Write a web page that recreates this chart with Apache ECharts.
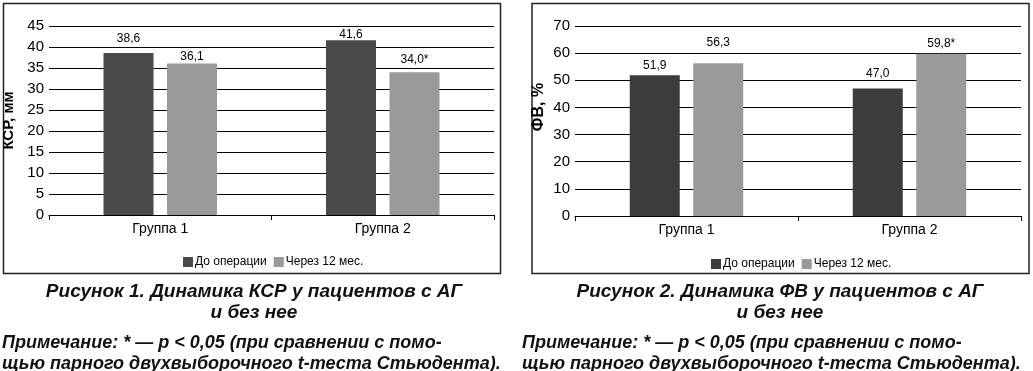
<!DOCTYPE html>
<html>
<head>
<meta charset="utf-8">
<script src="https://cdn.jsdelivr.net/npm/echarts@6/dist/echarts.min.js"></script>
<style>
html,body{margin:0;padding:0;background:#fff;}
#c{width:1033px;height:371px;}
</style>
</head>
<body>
<div id="c"></div>
<script>
// ---- data ----
const categories = ['Группа 1', 'Группа 2'];
const seriesNames = ['До операции', 'Через 12 мес.'];
// Figure 1: КСР, мм
const ksrBefore = [38.6, 41.6];
const ksrAfter = [36.1, 34.0];
const ksrAfterSig = [false, true];
const ksrTicks = { min: 0, max: 45, interval: 5 };
// Figure 2: ФВ, %
const fvBefore = [51.9, 47.0];
const fvAfter = [56.3, 59.8];
const fvAfterSig = [false, true];
const fvTicks = { min: 0, max: 70, interval: 10 };

const captions = {
  fig1: ['Рисунок 1. Динамика КСР у пациентов с АГ', 'и без нее'],
  fig2: ['Рисунок 2. Динамика ФВ у пациентов с АГ', 'и без нее'],
  note: ['Примечание: * — p < 0,05 (при сравнении с помо-', 'щью парного двухвыборочного t-теста Стьюдента).']
};

// ---- styling ----
const FONT = '"Liberation Sans", Arial, sans-serif';
const darkL = '#4a4a4a', darkR = '#3c3c3c', light = '#9a9a9a';
// label lift above each bar (px), as placed in the original
const liftKsrBefore = [8, 0], liftKsrAfter = [1, 7];
const liftFvBefore = [3, 9], liftFvAfter = [14, 4];

function fmt(v, sig) { return v.toFixed(1).replace('.', ',') + (sig ? '*' : ''); }

function makeData(values, lifts, sigs) {
  return values.map((v, i) => ({
    value: v,
    label: { distance: lifts[i], formatter: fmt(v, sigs ? sigs[i] : false) }
  }));
}

function barSeries(name, values, lifts, sigs, color, idx) {
  return {
    type: 'bar', name: name, xAxisIndex: idx, yAxisIndex: idx,
    barWidth: 50, barGap: '27%',
    itemStyle: { color: color },
    label: { show: true, position: 'top', color: '#000', fontSize: 12, fontFamily: FONT },
    data: makeData(values, lifts, sigs),
    animation: false
  };
}

function xAx(idx) {
  return {
    type: 'category', gridIndex: idx, data: categories,
    axisLine: { lineStyle: { color: '#000', width: 1 } },
    axisTick: { show: true, length: 5, lineStyle: { color: '#000' } },
    axisLabel: { color: '#000', fontSize: 14, fontFamily: FONT, margin: 7 }
  };
}
function yAx(idx, t, name, size, gap, pad) {
  return {
    type: 'value', gridIndex: idx, min: t.min, max: t.max, interval: t.interval,
    name: name, nameLocation: 'middle', nameGap: gap, nameRotate: 90,
    nameTextStyle: { color: '#000', fontWeight: 'bold', fontSize: size, fontFamily: FONT, padding: pad },
    axisLine: { show: false }, axisTick: { show: false },
    axisLabel: { color: '#000', fontSize: 15, fontFamily: FONT, margin: 5 },
    splitLine: { lineStyle: { color: '#000', width: 1 } }
  };
}

function legend(left, top, dark) {
  return {
    left: left, top: top, itemWidth: 10, itemHeight: 10, itemGap: 7, icon: 'rect',
    textStyle: { color: '#000', fontSize: 12, fontFamily: FONT, padding: [0, 0, 0, -3] },
    selectedMode: false,
    data: [
      { name: seriesNames[0], itemStyle: { color: dark } },
      { name: seriesNames[1], itemStyle: { color: light } }
    ]
  };
}

function txt(text, x, y, align, size) {
  return { type: 'text', x: x, y: y, silent: true,
    style: { text: text, fill: '#111', font: 'italic bold ' + size + 'px ' + FONT,
      textAlign: align, textVerticalAlign: 'middle' } };
}

const chart = echarts.init(document.getElementById('c'), null, { renderer: 'canvas' });
chart.setOption({
  animation: false,
  backgroundColor: '#fff',
  grid: [
    { left: 48, top: 26, width: 446, height: 189, containLabel: false },
    { left: 575, top: 26, width: 446, height: 190, containLabel: false }
  ],
  xAxis: [xAx(0), xAx(1)],
  yAxis: [
    yAx(0, ksrTicks, 'КСР, мм', 15, 33, [0, 0, 0, 0]),
    yAx(1, fvTicks, 'ФВ, %', 16, 28, [0, 0, 0, 28])
  ],
  legend: [legend(178, 251, darkL), legend(706, 253, darkR)],
  series: [
    barSeries(seriesNames[0], ksrBefore, liftKsrBefore, null, darkL, 0),
    barSeries(seriesNames[1], ksrAfter, liftKsrAfter, ksrAfterSig, light, 0),
    barSeries(seriesNames[0], fvBefore, liftFvBefore, null, darkR, 1),
    barSeries(seriesNames[1], fvAfter, liftFvAfter, fvAfterSig, light, 1)
  ],
  graphic: [
    { type: 'rect', shape: { x: 3.5, y: 3.5, width: 497, height: 270 }, silent: true,
      style: { fill: 'none', stroke: '#222', lineWidth: 1.5 } },
    { type: 'rect', shape: { x: 532, y: 3.5, width: 497, height: 270 }, silent: true,
      style: { fill: 'none', stroke: '#222', lineWidth: 1.5 } },
    txt(captions.fig1[0], 254, 292, 'center', 19),
    txt(captions.fig1[1], 254, 313, 'center', 19),
    txt(captions.note[0], 2, 343, 'left', 18),
    txt(captions.note[1], 2, 364, 'left', 18),
    txt(captions.fig2[0], 780, 292, 'center', 19),
    txt(captions.fig2[1], 780, 313, 'center', 19),
    txt(captions.note[0], 522, 343, 'left', 18),
    txt(captions.note[1], 522, 364, 'left', 18)
  ]
});
</script>
</body>
</html>
